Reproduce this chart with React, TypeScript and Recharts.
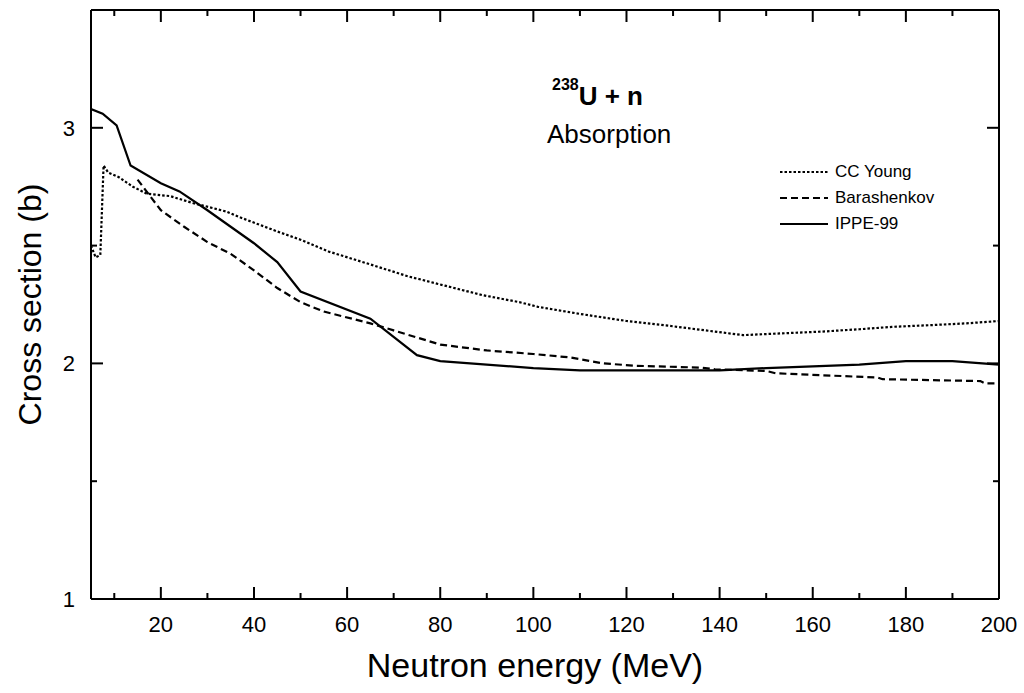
import React from "react";
import { LineChart, Line, XAxis, YAxis, Legend } from "recharts";

const FONT = "Arial, 'Liberation Sans', sans-serif";

const xMajor = [20, 40, 60, 80, 100, 120, 140, 160, 180, 200];
const xMinor = [10, 30, 50, 70, 90, 110, 130, 150, 170, 190];
const yMajor = [1, 2, 3];
const yMinor = [1.5, 2.5];

// CC Young
const ccYoungE = [5, 6, 7, 7.7, 8.7, 11, 14, 17, 22, 27, 34, 37, 45, 50, 56, 65, 73, 81, 89, 97, 101, 110, 120, 129, 137, 145, 154, 162, 170, 177, 186, 193, 200];
const ccYoungXs = [2.5, 2.45, 2.46, 2.84, 2.81, 2.79, 2.75, 2.72, 2.71, 2.68, 2.645, 2.62, 2.56, 2.525, 2.475, 2.42, 2.37, 2.33, 2.29, 2.26, 2.24, 2.21, 2.18, 2.16, 2.14, 2.12, 2.128, 2.135, 2.145, 2.155, 2.163, 2.17, 2.18];

// Barashenkov
const barE = [15, 20, 25, 30, 35, 40, 45, 50, 55, 65, 70, 75, 80, 90, 100, 108, 115, 122, 136, 139, 150, 152, 174, 175, 196, 197, 200];
const barXs = [2.78, 2.65, 2.58, 2.515, 2.465, 2.395, 2.32, 2.26, 2.22, 2.17, 2.14, 2.11, 2.08, 2.055, 2.04, 2.025, 2.0, 1.99, 1.982, 1.975, 1.968, 1.958, 1.94, 1.933, 1.925, 1.915, 1.915];

// IPPE-99
const ippeE = [5, 7.5, 10.5, 13.5, 20, 24, 30, 35, 40, 45, 50, 65, 75, 80, 100, 110, 140, 150, 170, 180, 190, 200];
const ippeXs = [3.08, 3.06, 3.01, 2.84, 2.765, 2.73, 2.65, 2.58, 2.51, 2.43, 2.305, 2.19, 2.035, 2.01, 1.98, 1.97, 1.97, 1.98, 1.995, 2.01, 2.01, 1.995];

const toRows = (e: number[], v: number[]) => e.map((x, i) => ({ e: x, v: v[i] }));

const series = [
  { name: "CC Young", data: toRows(ccYoungE, ccYoungXs), dash: "2.5 2" },
  { name: "Barashenkov", data: toRows(barE, barXs), dash: "7 4" },
  { name: "IPPE-99", data: toRows(ippeE, ippeXs), dash: undefined as string | undefined },
];

const xTicks = [...xMinor, ...xMajor].sort((a, b) => a - b);
const yTicks = [...yMajor, ...yMinor].sort((a, b) => a - b);

const XTick = (props: any) => {
  const { x, y, payload, top } = props;
  const v = payload.value;
  const major = xMajor.includes(v);
  const len = major ? 12 : 6;
  const dir = top ? 1 : -1;
  return (
    <g>
      <line x1={x} y1={y} x2={x} y2={y + dir * len} stroke="#000" strokeWidth={2} />
      {!top && major && (
        <text x={x} y={y + 33} textAnchor="middle" fontSize={22} fontFamily={FONT} fill="#000">
          {v}
        </text>
      )}
    </g>
  );
};

const YTick = (props: any) => {
  const { x, y, payload, right } = props;
  const v = payload.value;
  const major = yMajor.includes(v);
  const len = major ? 12 : 6;
  const dir = right ? -1 : 1;
  return (
    <g>
      <line x1={x} y1={y} x2={x + dir * len} y2={y} stroke="#000" strokeWidth={2} />
      {!right && major && (
        <text x={x - 16} y={y + 8} textAnchor="end" fontSize={22} fontFamily={FONT} fill="#000">
          {v}
        </text>
      )}
    </g>
  );
};

const LegendBox = () => (
  <div style={{ fontFamily: FONT, fontSize: 17, color: "#000" }}>
    {series.map((s) => (
      <div key={s.name} style={{ display: "flex", alignItems: "center", height: 26 }}>
        <svg width={52} height={10}>
          <line x1={2} y1={5} x2={50} y2={5} stroke="#000" strokeWidth={2} strokeDasharray={s.dash} />
        </svg>
        <span style={{ marginLeft: 5 }}>{s.name}</span>
      </div>
    ))}
  </div>
);

export default function App() {
  return (
    <div style={{ position: "absolute", left: 0, top: 0, width: 1024, height: 693, background: "#fff" }}>
      <LineChart width={1024} height={693} margin={{ top: 9, right: 24, bottom: 0, left: 0 }}>
        <XAxis
          xAxisId="b"
          type="number"
          dataKey="e"
          domain={[5, 200]}
          ticks={xTicks}
          interval={0}
          allowDataOverflow
          height={94}
          tickSize={0}
          tickMargin={0}
          tickLine={false}
          axisLine={{ stroke: "#000", strokeWidth: 2 }}
          tick={(p: any) => <XTick {...p} top={false} />}
          label={{
            value: "Neutron energy (MeV)",
            position: "insideBottom",
            offset: 16,
            dx: -10,
            fontSize: 34,
            fill: "#000",
            style: { fontFamily: FONT, fontSize: 34, fill: "#000" },
          }}
        />
        <XAxis
          xAxisId="t"
          orientation="top"
          type="number"
          dataKey="e"
          domain={[5, 200]}
          ticks={xTicks}
          interval={0}
          allowDataOverflow
          height={1}
          tickSize={0}
          tickMargin={0}
          tickLine={false}
          axisLine={{ stroke: "#000", strokeWidth: 2 }}
          tick={(p: any) => <XTick {...p} top={true} />}
        />
        <YAxis
          yAxisId="l"
          type="number"
          domain={[1, 3.5]}
          ticks={yTicks}
          interval={0}
          allowDataOverflow
          width={91}
          tickSize={0}
          tickMargin={0}
          tickLine={false}
          axisLine={{ stroke: "#000", strokeWidth: 2 }}
          tick={(p: any) => <YTick {...p} right={false} />}
          label={{
            value: "Cross section (b)",
            angle: -90,
            position: "insideLeft",
            offset: 30,
            fontSize: 32,
            fill: "#000",
            style: { fontFamily: FONT, fontSize: 32, fill: "#000", textAnchor: "middle" },
          }}
        />
        <YAxis
          yAxisId="r"
          orientation="right"
          type="number"
          domain={[1, 3.5]}
          ticks={yTicks}
          interval={0}
          allowDataOverflow
          width={1}
          tickSize={0}
          tickMargin={0}
          tickLine={false}
          axisLine={{ stroke: "#000", strokeWidth: 2 }}
          tick={(p: any) => <YTick {...p} right={true} />}
        />
        {series.map((s) => (
          <Line
            key={s.name}
            xAxisId="b"
            yAxisId="l"
            data={s.data}
            dataKey="v"
            name={s.name}
            type="linear"
            stroke="#000"
            strokeWidth={2.2}
            strokeDasharray={s.dash}
            dot={false}
            activeDot={false}
            isAnimationActive={false}
          />
        ))}
        <Legend
          layout="vertical"
          align="center"
          verticalAlign="middle"
          content={() => <LegendBox />}
          wrapperStyle={{ left: 778, top: 159, width: 200 }}
        />
      </LineChart>
      <svg
        width={1024}
        height={693}
        style={{ position: "absolute", left: 0, top: 0, pointerEvents: "none" }}
      >
        <text x={552} y={105} fontFamily={FONT} fontWeight="bold" fill="#000">
          <tspan fontSize={16} dy={-15}>238</tspan>
          <tspan fontSize={26} dy={15}>U + n</tspan>
        </text>
        <text x={547} y={143} fontFamily={FONT} fontSize={26} fill="#000">
          Absorption
        </text>
      </svg>
    </div>
  );
}
